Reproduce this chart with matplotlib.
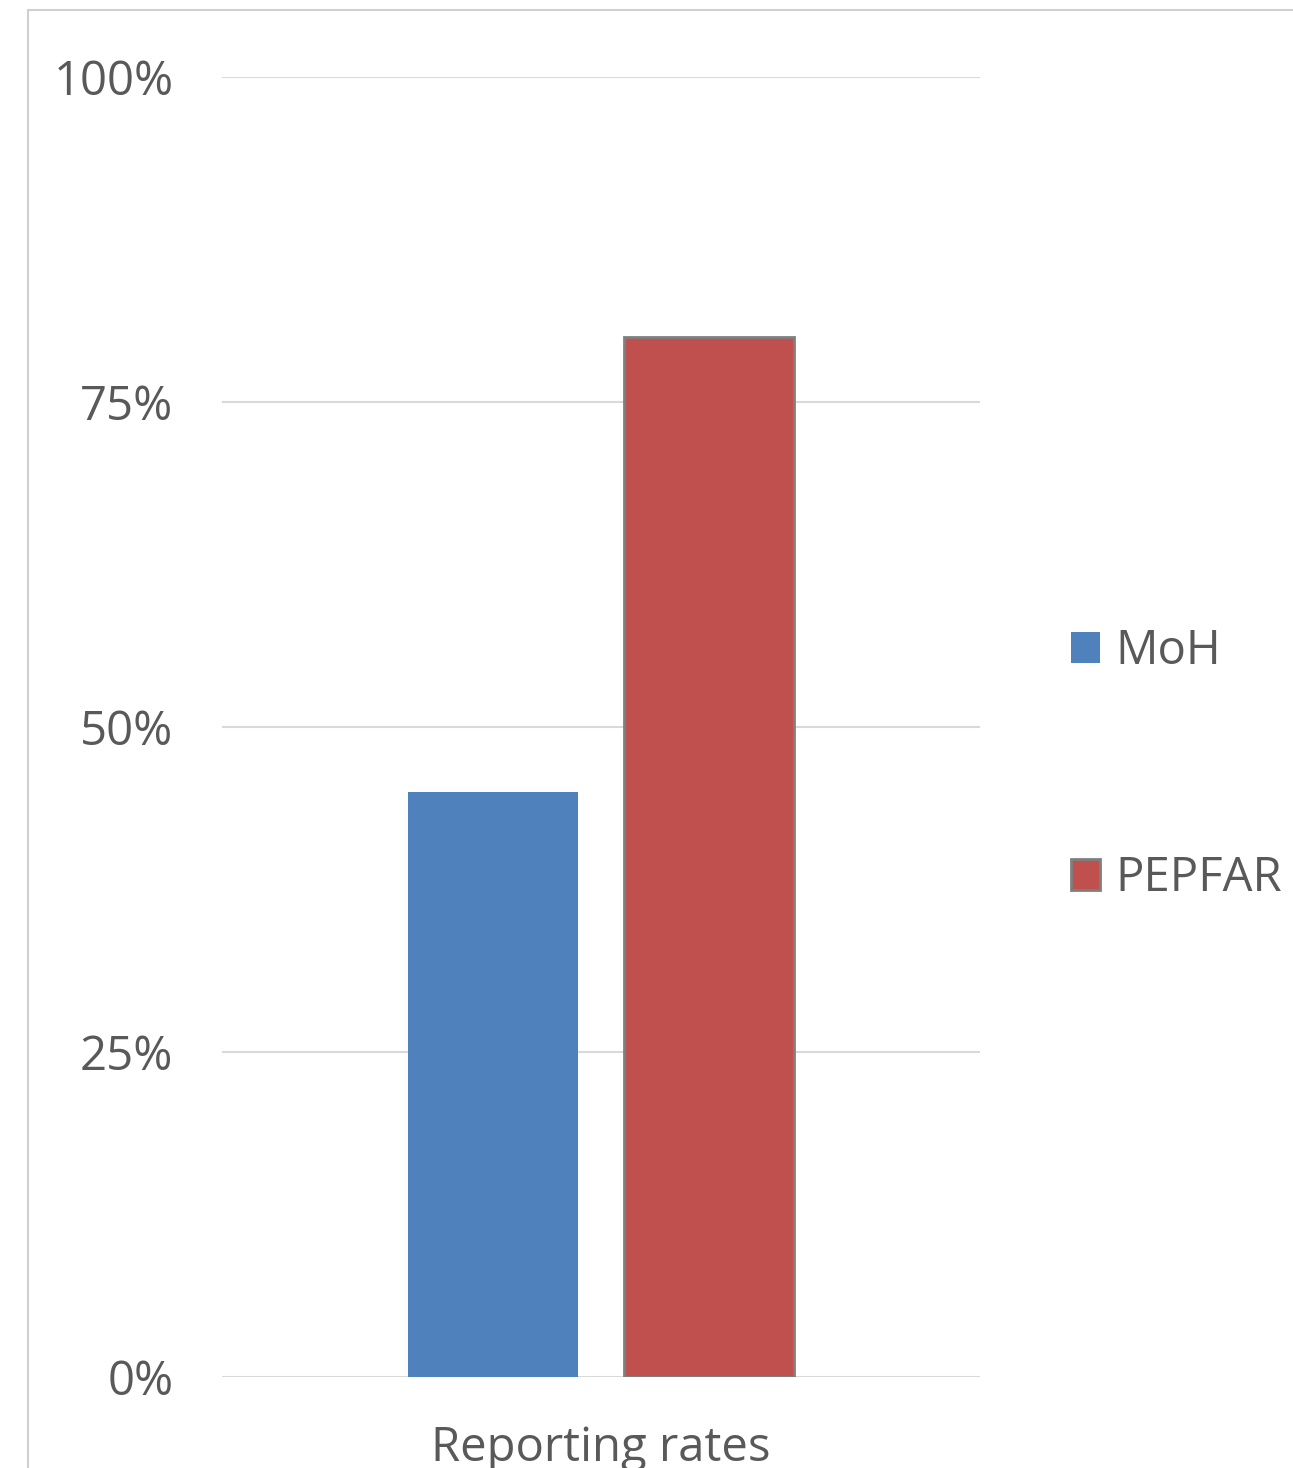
import matplotlib.pyplot as plt
from matplotlib.patches import Rectangle
from matplotlib.ticker import PercentFormatter

# data
category = ['Reporting rates']
series = ['MoH', 'PEPFAR']
values = [0.45, 0.80]
colors = ['#4f81bd', '#c0504d']
edges = ['none', '#7f7f7f']

W, H = 1293, 1468
plt.rcParams['font.family'] = ['Open Sans', 'DejaVu Sans']
text_col = '#595959'

fig = plt.figure(figsize=(W / 100, H / 100), dpi=100)
ax = fig.add_axes([222 / W, 1 - 1377 / H, (980 - 222) / W, (1377 - 77) / H])

# outer chart frame (clipped by the figure on right/bottom)
fig.patches.append(Rectangle((28 / W, -0.1), 2, 1.1 - 10 / H,
                             transform=fig.transFigure, fill=False,
                             edgecolor='#d0d0d0', linewidth=1.5))

bar_w = 0.224
gap = 0.06
offsets = [-(bar_w + gap) / 2, (bar_w + gap) / 2]
for name, v, c, e, off in zip(series, values, colors, edges, offsets):
    ax.bar(0 + off, v, width=bar_w, color=c, edgecolor=e,
           linewidth=2 if e != 'none' else 0, label=name, zorder=3)

ax.set_xlim(-0.5, 0.5)
ax.set_ylim(0, 1)
ax.set_yticks([0, 0.25, 0.5, 0.75, 1.0])
ax.yaxis.set_major_formatter(PercentFormatter(1.0, decimals=0))
ax.set_xticks([0])
ax.set_xticklabels(category)
ax.grid(axis='y', color='#d9d9d9', linewidth=1.5, zorder=0)
for s in ax.spines.values():
    s.set_visible(False)
ax.tick_params(axis='y', length=0, pad=35, labelsize=34, labelcolor=text_col)
ax.tick_params(axis='x', length=0, pad=34, labelsize=34, labelcolor=text_col)

leg = fig.legend(loc='center left', bbox_to_anchor=(1071 / W, 1 - 765 / H),
                 frameon=False, fontsize=34, labelcolor=text_col,
                 borderpad=0, borderaxespad=0, handlelength=0.62,
                 handleheight=0.62, handletextpad=0.33, labelspacing=3.8)

fig.savefig('out.png', dpi=100)
